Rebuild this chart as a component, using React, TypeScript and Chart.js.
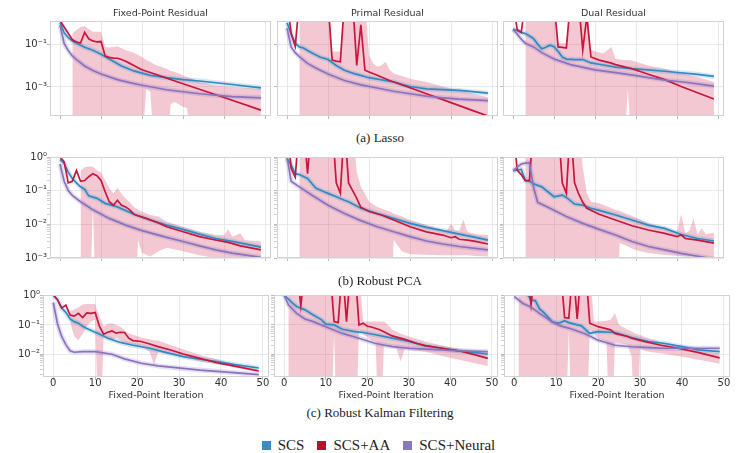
import React, { useEffect, useRef } from 'react';
import { Chart, registerables } from 'chart.js';

Chart.register(...registerables);
Chart.defaults.font.family = '"DejaVu Sans", sans-serif';

type Pt = [number, number]; // [iteration, residual]
type Band = [number, number, number]; // [iteration, lower, upper]

// ---------------- (a) Lasso ----------------
const lassoFixedScs: Pt[] = [[0, 1.0], [1, 0.35], [2, 0.2], [3, 0.14], [5, 0.089], [6, 0.071], [8, 0.052], [10, 0.034], [12, 0.02], [15, 9.5e-3], [18, 5.6e-3], [22, 3.5e-3], [26, 2.7e-3], [30, 2.2e-3], [34, 1.9e-3], [42, 1.3e-3], [49, 9.1e-4]];
const lassoFixedAa: Pt[] = [[0, 1.26], [1, 0.63], [2, 0.32], [3, 0.16], [4, 0.126], [5, 0.112], [6, 0.355], [7, 0.178], [8, 0.141], [9, 0.126], [10, 0.132], [11, 0.028], [12, 0.024], [13, 0.0224], [14, 0.0219], [15, 0.019], [16, 0.0158], [17, 0.0126], [18, 0.01], [19, 7.9e-3], [20, 6.3e-3], [24, 3.5e-3], [28, 1.9e-3], [34, 7.8e-4], [40, 3.2e-4], [49, 8.3e-5]];
const lassoFixedNeural: Pt[] = [[0, 0.78], [1, 0.107], [2, 0.05], [3, 0.028], [4, 0.019], [6, 9.5e-3], [8, 5.9e-3], [10, 4.0e-3], [14, 2.2e-3], [17, 1.6e-3], [20, 1.2e-3], [26, 7.4e-4], [34, 4.8e-4], [42, 3.5e-4], [49, 3.1e-4]];
const lassoFixedAaBand: Band[] = [[3, 1e-6, 0.32], [4, 1e-6, 0.45], [5, 1e-6, 0.63], [6, 1e-6, 0.71], [7, 1e-6, 0.5], [8, 1e-6, 0.38], [10, 1e-6, 0.38], [11, 1e-6, 0.074], [12, 1e-6, 0.07], [14, 1e-6, 0.079], [16, 1e-6, 0.052], [18, 1e-6, 0.04], [20, 1e-6, 0.025], [21, 8e-4, 0.018], [22, 6e-4, 0.015], [23, 1e-6, 0.0112], [26, 1e-6, 7.1e-3], [27, 1.6e-4, 5.6e-3], [28, 2e-4, 5.0e-3], [29, 1.5e-4, 4.2e-3], [30, 1.2e-4, 3.4e-3], [31, 1e-4, 2.9e-3], [32, 1e-6, 2.5e-3], [34, 1e-6, 1.7e-3], [38, 1e-6, 1.17e-3], [42, 1e-6, 1.0e-3], [49, 1e-6, 8.1e-4]];

const lassoPrimalScs: Pt[] = [[0, 1.0], [1, 0.3], [2, 0.11], [3, 0.074], [4, 0.066], [5, 0.05], [6, 0.04], [8, 0.025], [10, 0.019], [12, 0.01], [14, 6.0e-3], [16, 4.4e-3], [20, 2.7e-3], [26, 1.7e-3], [30, 1.05e-3], [34, 8.1e-4], [42, 6.9e-4], [49, 5.1e-4]];
const lassoPrimalAa: Pt[] = [[0, 10], [1, 0.32], [2, 0.08], [3, 10], [10, 10], [11, 0.018], [12, 0.016], [13, 0.015], [14, 10], [16, 10], [17, 0.01], [18, 0.8], [19, 6.0e-3], [20, 5.0e-3], [22, 3.5e-3], [25, 2.0e-3], [30, 9.1e-4], [35, 4.1e-4], [40, 1.86e-4], [45, 8.3e-5], [49, 4.4e-5]];
const lassoPrimalNeural: Pt[] = [[0, 0.55], [1, 0.074], [2, 0.04], [3, 0.026], [5, 0.0126], [7, 7.6e-3], [10, 4.0e-3], [14, 2.0e-3], [18, 1.26e-3], [22, 8.9e-4], [26, 6.3e-4], [30, 4.8e-4], [34, 3.7e-4], [38, 3.1e-4], [42, 2.7e-4], [49, 2.3e-4]];
const lassoPrimalAaBand: Band[] = [[3, 1e-6, 10], [10, 1e-6, 10], [11, 1e-6, 0.045], [13, 1e-6, 0.045], [14, 1e-6, 10], [19, 1e-6, 10], [20, 1e-6, 0.03], [21, 1e-6, 0.0126], [22, 1e-6, 8.9e-3], [23, 1e-6, 0.01], [24, 1e-6, 0.015], [25, 1e-6, 6.3e-3], [26, 1e-6, 4.2e-3], [30, 1e-6, 2.4e-3], [34, 1e-6, 1.7e-3], [38, 1e-6, 1.05e-3], [42, 1e-6, 6.9e-4], [49, 1e-6, 3.3e-4]];

const lassoDualScs: Pt[] = [[0, 0.5], [1, 0.42], [2, 0.35], [3, 0.31], [4, 0.24], [5, 0.18], [6, 0.1], [7, 0.06], [8, 0.071], [9, 0.089], [10, 0.076], [11, 0.045], [12, 0.025], [13, 0.02], [15, 0.019], [17, 0.019], [19, 0.0132], [21, 0.0115], [25, 8.5e-3], [29, 7.1e-3], [37, 5.4e-3], [45, 3.9e-3], [49, 3.1e-3]];
const lassoDualAa: Pt[] = [[0, 10], [1, 0.49], [2, 0.35], [3, 10], [10, 10], [11, 0.074], [12, 0.07], [13, 0.066], [14, 10], [16, 10], [17, 0.052], [18, 2], [19, 0.025], [21, 0.018], [24, 0.013], [25, 0.011], [29, 7.1e-3], [33, 3.9e-3], [37, 2.2e-3], [41, 1.05e-3], [49, 2.75e-4]];
const lassoDualNeural: Pt[] = [[0, 0.49], [1, 0.3], [2, 0.17], [3, 0.11], [5, 0.074], [7, 0.04], [10, 0.02], [14, 0.011], [20, 6.3e-3], [25, 4.7e-3], [30, 3.4e-3], [37, 2.1e-3], [42, 1.66e-3], [49, 1.1e-3]];
const lassoDualAaBand: Band[] = [[3, 1e-6, 10], [10, 1e-6, 10], [11, 1e-6, 0.11], [13, 1e-6, 0.11], [14, 1e-6, 10], [18, 1e-6, 10], [19, 1e-6, 0.052], [22, 1e-6, 0.036], [24, 1e-6, 0.074], [25, 1e-6, 0.021], [27, 1e-6, 0.018], [28, 7.4e-4, 0.018], [29, 1e-6, 0.017], [33, 1e-6, 0.01], [37, 1e-6, 7.1e-3], [41, 1e-6, 4.3e-3], [45, 1e-6, 2.9e-3], [49, 1e-6, 1.7e-3]];

// ---------------- (b) Robust PCA ----------------
const pcaFixedScs: Pt[] = [[0, 0.85], [1, 0.65], [2, 0.35], [3, 0.23], [4, 0.17], [5, 0.13], [6, 0.11], [7, 0.07], [9, 0.059], [11, 0.042], [14, 0.033], [18, 0.02], [22, 0.0135], [26, 9.5e-3], [30, 7.1e-3], [34, 5.1e-3], [38, 3.8e-3], [42, 3.1e-3], [49, 2.1e-3]];
const pcaFixedAa: Pt[] = [[0, 1.0], [1, 0.72], [2, 0.17], [3, 0.19], [4, 0.4], [5, 0.19], [6, 0.2], [7, 0.26], [8, 0.32], [9, 0.28], [10, 0.2], [11, 0.093], [12, 0.047], [13, 0.037], [14, 0.052], [15, 0.037], [16, 0.033], [17, 0.027], [18, 0.02], [19, 0.018], [21, 0.015], [24, 0.011], [26, 8.5e-3], [30, 6.0e-3], [34, 4.3e-3], [37, 3.6e-3], [41, 2.9e-3], [44, 2.3e-3], [49, 1.75e-3]];
const pcaFixedNeural: Pt[] = [[0, 0.62], [1, 0.19], [2, 0.1], [3, 0.072], [5, 0.047], [8, 0.027], [12, 0.015], [16, 9.5e-3], [20, 6.5e-3], [26, 4.1e-3], [30, 3.1e-3], [34, 2.3e-3], [38, 1.75e-3], [42, 1.4e-3], [49, 1.05e-3]];
const pcaFixedAaBand: Band[] = [[5, 1e-6, 0.4], [6, 1e-6, 0.5], [7, 1e-6, 0.52], [8, 0.047, 0.52], [9, 1e-6, 0.4], [10, 1e-6, 0.35], [11, 1e-6, 0.2], [12, 1e-6, 0.12], [13, 1e-6, 0.083], [14, 1e-6, 0.12], [15, 1e-6, 0.08], [16, 1e-6, 0.059], [17, 1e-6, 0.045], [18, 1e-6, 0.033], [19, 3.4e-3, 0.027], [20, 1.4e-3, 0.024], [22, 1.1e-3, 0.019], [24, 1.6e-3, 0.017], [26, 2.0e-3, 0.012], [30, 1.6e-3, 8.5e-3], [34, 1.2e-3, 6.0e-3], [38, 1.0e-3, 4.8e-3], [40, 9e-4, 4.8e-3], [41, 9e-4, 7.1e-3], [42, 9e-4, 4.3e-3], [44, 9e-4, 5.4e-3], [45, 9e-4, 3.4e-3], [49, 9e-4, 3.1e-3]];

const pcaPrimalScs: Pt[] = [[0, 0.9], [1, 0.58], [2, 0.32], [3, 0.3], [5, 0.23], [7, 0.12], [9, 0.093], [10, 0.083], [12, 0.066], [14, 0.052], [15, 0.047], [18, 0.03], [22, 0.021], [26, 0.015], [30, 0.0107], [34, 8.1e-3], [38, 6.5e-3], [42, 5.1e-3], [46, 4.1e-3], [49, 3.4e-3]];
const pcaPrimalAa: Pt[] = [[0, 10], [1, 0.46], [2, 0.25], [3, 10], [4, 10], [5, 0.32], [6, 10], [11, 10], [12, 0.17], [13, 0.083], [14, 10], [15, 0.17], [16, 0.1], [17, 0.059], [18, 0.032], [20, 0.024], [23, 0.019], [26, 0.0135], [30, 8.5e-3], [34, 6.0e-3], [38, 4.8e-3], [40, 4.0e-3], [41, 4.3e-3], [42, 3.6e-3], [44, 3.4e-3], [46, 3.1e-3], [49, 2.6e-3]];
const pcaPrimalNeural: Pt[] = [[0, 1.0], [1, 0.19], [3, 0.13], [6, 0.074], [10, 0.037], [14, 0.021], [18, 0.0129], [22, 8.5e-3], [26, 6.0e-3], [30, 4.3e-3], [34, 3.2e-3], [38, 2.6e-3], [42, 2.2e-3], [49, 1.74e-3]];
const pcaPrimalAaBand: Band[] = [[3, 1e-6, 10], [16, 1e-6, 10], [17, 1e-6, 0.35], [18, 1e-6, 0.13], [19, 1e-6, 0.08], [20, 1e-6, 0.047], [22, 1e-6, 0.033], [25, 1e-6, 0.024], [26, 3.4e-3, 0.021], [28, 1.6e-3, 0.017], [30, 1.3e-3, 0.0135], [34, 1.25e-3, 9.5e-3], [38, 1.2e-3, 6.8e-3], [39, 1.2e-3, 6.5e-3], [40, 1.2e-3, 0.0107], [41, 1.2e-3, 6.8e-3], [42, 1.2e-3, 6.5e-3], [43, 1.2e-3, 0.0138], [44, 1.2e-3, 6.0e-3], [46, 1.15e-3, 5.1e-3], [49, 1.1e-3, 4.8e-3]];

const pcaDualScs: Pt[] = [[0, 0.39], [1, 0.41], [2, 0.43], [3, 0.2], [4, 0.19], [5, 0.16], [7, 0.13], [10, 0.066], [12, 0.074], [13, 0.063], [15, 0.04], [17, 0.037], [19, 0.03], [21, 0.026], [25, 0.019], [29, 0.0135], [33, 9.5e-3], [37, 7.6e-3], [41, 5.0e-3], [45, 3.8e-3], [49, 3.2e-3]];
const pcaDualAa: Pt[] = [[0, 10], [1, 0.41], [2, 0.3], [3, 0.2], [4, 0.2], [5, 10], [11, 10], [12, 0.17], [13, 0.083], [14, 10], [15, 0.17], [16, 0.08], [17, 0.045], [18, 0.03], [21, 0.02], [25, 0.0135], [29, 9.1e-3], [33, 6.8e-3], [37, 5.4e-3], [40, 4.3e-3], [41, 4.9e-3], [42, 3.8e-3], [45, 3.4e-3], [49, 2.75e-3]];
const pcaDualNeural: Pt[] = [[0, 0.39], [1, 0.5], [2, 0.62], [3, 0.66], [4, 0.68], [5, 0.126], [6, 0.045], [9, 0.03], [13, 0.017], [17, 0.0107], [21, 7.1e-3], [25, 4.8e-3], [29, 3.1e-3], [33, 2.2e-3], [37, 1.74e-3], [41, 1.38e-3], [49, 9.3e-4]];
const pcaDualAaBand: Band[] = [[3, 1e-6, 10], [16, 1e-6, 10], [17, 1e-6, 0.5], [18, 1e-6, 0.083], [19, 1e-6, 0.047], [21, 1e-6, 0.042], [25, 1e-6, 0.027], [26, 2.8e-3, 0.025], [28, 2.2e-3, 0.02], [30, 1.7e-3, 0.016], [33, 1.4e-3, 0.0107], [37, 1.23e-3, 7.6e-3], [40, 1.15e-3, 6e-3], [41, 1.1e-3, 0.02], [42, 1.1e-3, 5.4e-3], [43, 1.1e-3, 6.5e-3], [44, 1.1e-3, 0.015], [45, 1.05e-3, 5.1e-3], [46, 1.05e-3, 7.6e-3], [47, 1.0e-3, 5.1e-3], [49, 1.0e-3, 5.6e-3]];

// ---------------- (c) Robust Kalman Filtering ----------------
const kalmanFixedScs: Pt[] = [[0, 1.07], [1, 0.74], [2, 0.38], [3, 0.27], [4, 0.16], [5, 0.13], [6, 0.115], [7, 0.09], [8, 0.076], [10, 0.056], [11, 0.049], [13, 0.035], [16, 0.025], [19, 0.02], [23, 0.0158], [27, 0.0112], [31, 8.1e-3], [35, 6.6e-3], [39, 5.5e-3], [43, 4.4e-3], [49, 3.3e-3]];
const kalmanFixedAa: Pt[] = [[0, 1.07], [1, 0.74], [2, 0.38], [3, 0.48], [4, 0.22], [5, 0.2], [6, 0.25], [7, 0.18], [8, 0.26], [9, 0.25], [10, 0.27], [11, 0.09], [12, 0.048], [13, 0.056], [14, 0.062], [15, 0.052], [16, 0.056], [17, 0.055], [18, 0.035], [19, 0.029], [21, 0.027], [23, 0.022], [25, 0.018], [28, 0.0138], [31, 0.01], [35, 7.1e-3], [39, 5.0e-3], [43, 3.9e-3], [49, 2.6e-3]];
const kalmanFixedNeural: Pt[] = [[0, 0.59], [1, 0.11], [2, 0.04], [3, 0.021], [4, 0.0129], [5, 0.0115], [7, 0.012], [10, 0.012], [14, 9.8e-3], [17, 6.8e-3], [21, 4.8e-3], [25, 3.9e-3], [31, 3.2e-3], [35, 2.8e-3], [43, 2.3e-3], [49, 1.95e-3]];
const kalmanFixedAaBand: Band[] = [[4, 0.13, 0.29], [5, 0.04, 0.34], [6, 0.03, 0.4], [7, 0.05, 0.5], [8, 0.09, 0.52], [9, 0.13, 0.52], [10, 0.15, 0.52], [11, 1e-6, 0.2], [12, 0.04, 0.087], [13, 0.035, 0.11], [14, 0.03, 0.115], [15, 0.037, 0.1], [16, 0.03, 0.087], [17, 0.025, 0.065], [18, 0.023, 0.051], [21, 0.018, 0.037], [23, 0.012, 0.032], [24, 4.2e-3, 0.03], [25, 0.0115, 0.029], [29, 9.3e-3, 0.018], [35, 5.5e-3, 9.3e-3], [43, 3.5e-3, 4.6e-3], [49, 2.3e-3, 2.9e-3]];

const kalmanPrimalScs: Pt[] = [[0, 1.07], [2, 0.56], [3, 0.43], [5, 0.33], [7, 0.22], [9, 0.15], [10, 0.107], [12, 0.1], [14, 0.071], [17, 0.059], [19, 0.055], [22, 0.046], [26, 0.035], [30, 0.027], [34, 0.019], [38, 0.0158], [42, 0.0129], [49, 0.01]];
const kalmanPrimalAa: Pt[] = [[0, 10], [3, 10], [4, 0.45], [5, 10], [11, 10], [12, 0.13], [13, 0.12], [14, 10], [15, 0.13], [16, 10], [17, 10], [18, 0.1], [19, 0.115], [20, 0.09], [21, 0.085], [23, 0.068], [26, 0.042], [29, 0.032], [32, 0.023], [34, 0.0195], [38, 0.0158], [42, 0.0129], [46, 9.3e-3], [49, 7.1e-3]];
const kalmanPrimalNeural: Pt[] = [[0, 1.07], [1, 0.49], [3, 0.25], [5, 0.16], [7, 0.13], [10, 0.087], [14, 0.051], [18, 0.035], [22, 0.023], [26, 0.018], [30, 0.0158], [34, 0.0148], [38, 0.0138], [42, 0.0129], [49, 0.012]];
const kalmanPrimalAaBand: Band[] = [[1, 1e-6, 10], [11, 1e-6, 10], [12, 0.051, 10], [13, 1e-6, 10], [17, 1e-6, 10], [18, 0.068, 10], [19, 0.05, 0.13], [21, 0.03, 0.13], [22, 0.027, 0.13], [23, 1e-6, 0.13], [24, 0.022, 0.13], [25, 0.02, 0.1], [26, 0.018, 0.068], [27, 0.016, 0.06], [28, 5.5e-3, 0.05], [29, 0.015, 0.045], [30, 0.0138, 0.04], [34, 0.012, 0.027], [38, 8.5e-3, 0.0195], [42, 6.3e-3, 0.0148], [49, 3.9e-3, 0.0105]];

const kalmanDualScs: Pt[] = [[0, 3], [1, 2.2], [2, 1.6], [3, 1.2], [4, 0.72], [5, 0.69], [6, 0.36], [7, 0.27], [8, 0.19], [9, 0.13], [10, 0.115], [11, 0.12], [12, 0.14], [13, 0.12], [16, 0.093], [18, 0.051], [20, 0.059], [24, 0.055], [28, 0.037], [32, 0.027], [36, 0.023], [40, 0.018], [44, 0.0138], [49, 0.012]];
const kalmanDualAa: Pt[] = [[0, 10], [3, 10], [4, 0.49], [5, 10], [11, 10], [12, 0.18], [13, 0.17], [14, 10], [15, 0.16], [16, 10], [17, 10], [18, 0.115], [20, 0.087], [23, 0.068], [24, 0.051], [27, 0.04], [28, 0.035], [31, 0.027], [35, 0.02], [39, 0.0158], [44, 0.0112], [49, 7.4e-3]];
const kalmanDualNeural: Pt[] = [[0, 0.95], [2, 0.56], [4, 0.41], [6, 0.25], [9, 0.129], [11, 0.093], [13, 0.078], [17, 0.049], [20, 0.03], [24, 0.02], [28, 0.0178], [32, 0.0166], [36, 0.0158], [49, 0.0158]];
const kalmanDualAaBand: Band[] = [[1, 1e-6, 10], [12, 1e-6, 10], [13, 0.068, 10], [14, 1e-6, 10], [17, 1e-6, 10], [18, 0.068, 10], [19, 0.05, 0.13], [20, 0.035, 0.13], [22, 0.027, 0.14], [23, 1e-6, 0.15], [24, 0.025, 0.25], [25, 0.024, 0.1], [27, 0.021, 0.07], [28, 8.1e-3, 0.06], [29, 1e-6, 0.05], [30, 0.015, 0.045], [32, 0.012, 0.035], [36, 0.01, 0.023], [40, 8.1e-3, 0.018], [44, 6.3e-3, 0.0138], [49, 4.6e-3, 0.0105]];

// ---------------- labels & scales ----------------
const columnTitles = ['Fixed-Point Residual', 'Primal Residual', 'Dual Residual'];
const rowCaptions = ['(a) Lasso', '(b) Robust PCA', '(c) Robust Kalman Filtering'];
const seriesNames = ['SCS', 'SCS+AA', 'SCS+Neural'];
const xAxisTitle = 'Fixed-Point Iteration';
const xTickValues = [0, 10, 20, 30, 40, 50];
const rowYMin = [4.4e-5, 1e-3, 1.62e-3];
const rowYMax = [1.2, 1, 1.07];
const rowMajorExps = [[-1, -3], [0, -1, -2, -3], [0, -1, -2]];
const rowMinorTicks = [false, true, true];
const X_MIN = -2.45;
const X_MAX = 51.45;

interface PanelData { scs: Pt[]; aa: Pt[]; neural: Pt[]; aaBand: Band[] }
const panelData: PanelData[][] = [
  [
    { scs: lassoFixedScs, aa: lassoFixedAa, neural: lassoFixedNeural, aaBand: lassoFixedAaBand },
    { scs: lassoPrimalScs, aa: lassoPrimalAa, neural: lassoPrimalNeural, aaBand: lassoPrimalAaBand },
    { scs: lassoDualScs, aa: lassoDualAa, neural: lassoDualNeural, aaBand: lassoDualAaBand },
  ],
  [
    { scs: pcaFixedScs, aa: pcaFixedAa, neural: pcaFixedNeural, aaBand: pcaFixedAaBand },
    { scs: pcaPrimalScs, aa: pcaPrimalAa, neural: pcaPrimalNeural, aaBand: pcaPrimalAaBand },
    { scs: pcaDualScs, aa: pcaDualAa, neural: pcaDualNeural, aaBand: pcaDualAaBand },
  ],
  [
    { scs: kalmanFixedScs, aa: kalmanFixedAa, neural: kalmanFixedNeural, aaBand: kalmanFixedAaBand },
    { scs: kalmanPrimalScs, aa: kalmanPrimalAa, neural: kalmanPrimalNeural, aaBand: kalmanPrimalAaBand },
    { scs: kalmanDualScs, aa: kalmanDualAa, neural: kalmanDualNeural, aaBand: kalmanDualAaBand },
  ],
];

// ---------------- styles & layout ----------------
const SCS_COLOR = '#2f8ac3';
const AA_COLOR = '#c8163c';
const NEURAL_COLOR = '#8a72bd';
const SCS_BAND = 'rgba(47,138,195,0.2)';
const NEURAL_BAND = 'rgba(138,114,189,0.22)';
const AA_BAND = 'rgba(214,72,110,0.3)';
const LEGEND_COLORS = ['#3a8dc1', '#b5122e', '#8a78bd'];
const GRID = '#e3e3e3';
const SANS = '"DejaVu Sans", sans-serif';
const SERIF = '"Liberation Serif", "Times New Roman", serif';

const ROW_BOX = [{ top: 21, bottom: 116 }, { top: 157, bottom: 258 }, { top: 295, bottom: 377 }];
const COL_BOX = [
  [[50, 271], [277, 498], [503, 724]],
  [[50, 271], [277, 498], [503, 724]],
  [[43, 269], [274, 498], [504, 730]],
];
const CAPTION_Y = [138, 281, 413];

const SUP: Record<string, string> = { '-': '⁻', '0': '⁰', '1': '¹', '2': '²', '3': '³', '4': '⁴', '5': '⁵', '6': '⁶', '7': '⁷', '8': '⁸', '9': '⁹' };
const expOf = (v: number) => Math.log10(v);
const isDecade = (v: number) => Math.abs(expOf(v) - Math.round(expOf(v))) < 1e-6;
const powLabel = (v: number) => '10' + String(Math.round(expOf(v))).split('').map((c) => SUP[c]).join('');

const boxPlugin = {
  id: 'panelBox',
  afterDatasetsDraw(chart: any) {
    const { ctx, chartArea } = chart;
    const { left, top, right, bottom } = chartArea;
    ctx.save();
    ctx.strokeStyle = '#d2d2d2';
    ctx.lineWidth = 1;
    ctx.strokeRect(left + 0.5, top + 0.5, right - left - 1, bottom - top - 1);
    ctx.restore();
  },
};

function Panel({ row, col }: { row: number; col: number }) {
  const ref = useRef<HTMLCanvasElement>(null);
  const [bl, br] = COL_BOX[row][col];
  const { top: bt, bottom: bb } = ROW_BOX[row];
  const padL = col === 0 ? bl : 6;
  const padT = row === 0 ? bt : 10;
  const padR = 10;
  const padB = row === 2 ? 24 : 6;
  const width = padL + (br - bl) + padR;
  const height = padT + (bb - bt) + padB;

  useEffect(() => {
    const d = panelData[row][col];
    const yMin = rowYMin[row];
    const yMax = rowYMax[row];
    const majors = rowMajorExps[row];
    const isMajor = (v: number) => isDecade(v) && majors.includes(Math.round(expOf(v)));
    const toXY = (pts: Pt[]) => pts.map(([x, y]) => ({ x, y }));
    const common = { pointRadius: 0, pointHoverRadius: 0, tension: 0, clip: 0, fill: false };
    const chart = new Chart(ref.current as HTMLCanvasElement, {
      type: 'line',
      data: {
        datasets: [
          { ...common, label: seriesNames[2], data: toXY(d.neural), borderColor: NEURAL_COLOR, borderWidth: 1.7, order: 1 },
          { ...common, label: seriesNames[1], data: toXY(d.aa), borderColor: AA_COLOR, borderWidth: 1.7, order: 2 },
          { ...common, label: seriesNames[0], data: toXY(d.scs), borderColor: SCS_COLOR, borderWidth: 1.7, order: 3 },
          { ...common, label: seriesNames[2] + ' band', data: toXY(d.neural), borderColor: NEURAL_BAND, borderWidth: 5, borderJoinStyle: 'round', order: 4 },
          { ...common, label: seriesNames[0] + ' band', data: toXY(d.scs), borderColor: SCS_BAND, borderWidth: 5, borderJoinStyle: 'round', order: 5 },
          { ...common, label: seriesNames[1] + ' upper', data: d.aaBand.map(([x, , hi]) => ({ x, y: hi })), borderColor: 'rgba(0,0,0,0)', borderWidth: 0, backgroundColor: AA_BAND, fill: '+1', order: 6 },
          { ...common, label: seriesNames[1] + ' lower', data: d.aaBand.map(([x, lo]) => ({ x, y: lo })), borderColor: 'rgba(0,0,0,0)', borderWidth: 0, order: 7 },
        ] as any,
      },
      options: {
        responsive: false,
        animation: false,
        events: [],
        layout: { padding: { left: 0, right: padR, top: row === 0 ? 0 : padT, bottom: 0 } },
        plugins: {
          legend: { display: false },
          tooltip: { enabled: false },
          title: {
            display: row === 0,
            text: columnTitles[col],
            fullSize: false,
            color: '#333',
            font: { family: SANS, size: 9.5, weight: 'normal', lineHeight: '11px' },
            padding: { top: 8, bottom: 2 },
          },
        },
        scales: {
          x: {
            type: 'linear',
            min: X_MIN,
            max: X_MAX,
            afterBuildTicks: (s: any) => { s.ticks = xTickValues.map((v) => ({ value: v })); },
            afterFit: (s: any) => { s.height = padB; },
            ticks: {
              display: row === 2,
              autoSkip: false,
              maxRotation: 0,
              padding: -2,
              color: '#333',
              font: { family: SANS, size: 10, lineHeight: 1 },
              callback: (v: any) => String(v),
            },
            grid: { color: GRID, lineWidth: 0.8, drawTicks: true, tickLength: 3, tickColor: '#a8a8a8' },
            border: { display: false },
            title: {
              display: row === 2,
              text: xAxisTitle,
              color: '#333',
              font: { family: SANS, size: 9.5, lineHeight: 1.2 },
              padding: { top: 0, bottom: 0 },
            },
          },
          y: {
            type: 'logarithmic',
            min: yMin,
            max: yMax,
            afterBuildTicks: (s: any) => {
              const ticks: { value: number }[] = [];
              const lo = Math.floor(Math.log10(yMin));
              const hi = Math.ceil(Math.log10(yMax));
              for (let e = lo; e <= hi; e++) {
                const base = Math.pow(10, e);
                if (majors.includes(e)) ticks.push({ value: base });
                if (rowMinorTicks[row]) {
                  for (let k = 2; k <= 9; k++) {
                    const v = k * base;
                    if (v >= yMin && v <= yMax) ticks.push({ value: v });
                  }
                }
              }
              ticks.sort((a, b) => a.value - b.value);
              s.ticks = ticks;
            },
            afterFit: (s: any) => { s.width = padL; },
            ticks: {
              display: col === 0,
              autoSkip: false,
              padding: 0,
              color: '#333',
              font: { family: SANS, size: 10, lineHeight: 1.1 },
              callback: (v: any) => (isMajor(Number(v)) ? powLabel(Number(v)) : ''),
            },
            grid: {
              color: (c: any) => (c.tick && isMajor(c.tick.value) ? GRID : 'rgba(0,0,0,0)'),
              lineWidth: 0.8,
              drawTicks: true,
              tickLength: 3,
              tickColor: (c: any) => (c.tick && isMajor(c.tick.value) ? '#a8a8a8' : '#c4c4c4'),
            },
            border: { display: false },
          },
        },
      } as any,
      plugins: [boxPlugin],
    });
    return () => chart.destroy();
  }, [row, col]);

  return (
    <canvas
      ref={ref}
      width={width}
      height={height}
      style={{ position: 'absolute', left: bl - padL, top: bt - padT, width, height }}
    />
  );
}

export default function App() {
  return (
    <div style={{ position: 'fixed', left: 0, top: 0, width: 740, height: 453, background: '#fff', overflow: 'hidden' }}>
      {[0, 1, 2].map((r) => [0, 1, 2].map((c) => <Panel key={`${r}-${c}`} row={r} col={c} />))}
      {rowCaptions.map((t, i) => (
        <div
          key={t}
          style={{
            position: 'absolute', left: 0, width: 760, top: CAPTION_Y[i] - 8, height: 16,
            textAlign: 'center', fontFamily: SERIF, fontSize: 13, lineHeight: '16px', color: '#222',
          }}
        >
          {t}
        </div>
      ))}
      <div
        style={{
          position: 'absolute', left: 0, width: 757, top: 436, height: 18,
          display: 'flex', justifyContent: 'center', alignItems: 'center',
          fontFamily: SERIF, fontSize: 15, color: '#222',
        }}
      >
        {seriesNames.map((n, i) => (
          <div key={n} style={{ display: 'flex', alignItems: 'center', marginRight: i < 2 ? 13 : 0 }}>
            <span style={{ display: 'inline-block', width: 9, height: 9, background: LEGEND_COLORS[i], marginRight: 7 }} />
            <span>{n}</span>
          </div>
        ))}
      </div>
    </div>
  );
}
